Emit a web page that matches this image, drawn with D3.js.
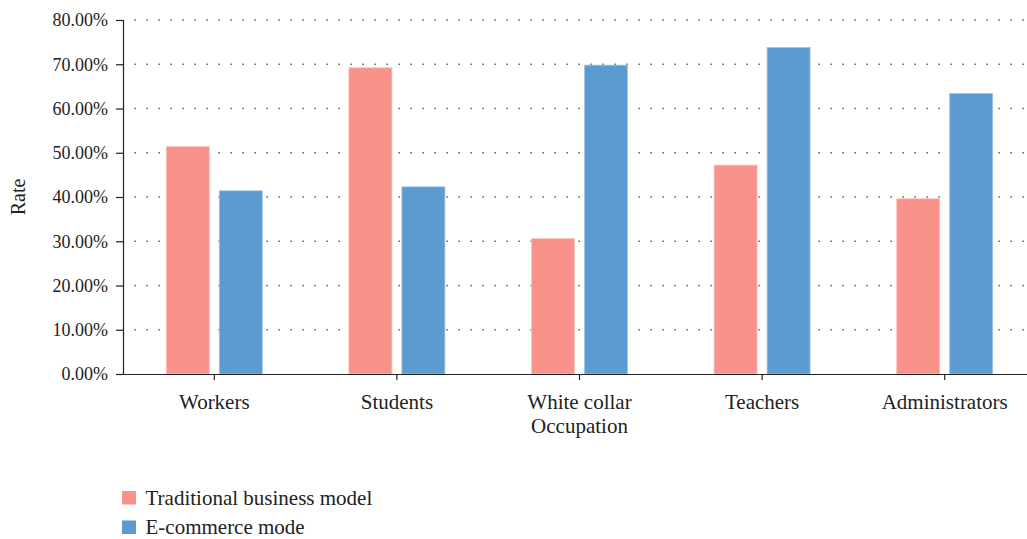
<!DOCTYPE html>
<html>
<head>
<meta charset="utf-8">
<script src="https://cdn.jsdelivr.net/npm/d3@7"></script>
<style>
  body { margin: 0; background: #fff; }
  svg { display: block; }
  svg text { font-family: "Liberation Serif", "DejaVu Serif", serif; }
</style>
</head>
<body>
<div id="chart"></div>
<script>
// data
const categories = ["Workers", "Students", "White collar\nOccupation", "Teachers", "Administrators"];
const seriesNames = ["Traditional business model", "E-commerce mode"];
const traditional = [51.4, 69.2, 30.6, 47.2, 39.6];
const ecommerce = [41.4, 42.3, 69.8, 73.8, 63.4];
const yTicks = [0, 10, 20, 30, 40, 50, 60, 70, 80];
const colors = ["#f8928a", "#5b9bd0"];

const width = 1027, height = 539;
const plotLeft = 123, plotRight = 1036, plotTop = 20, plotBottom = 374;

const svg = d3.select("#chart").append("svg")
  .attr("width", width)
  .attr("height", height);

const x = d3.scaleBand().domain(categories).range([plotLeft, plotRight]);
const y = d3.scaleLinear().domain([0, 80]).range([plotBottom, plotTop]);

// grid (dotted)
svg.append("g")
  .selectAll("line")
  .data(yTicks.slice(1))
  .enter()
  .append("line")
  .attr("x1", plotLeft + 11.5)
  .attr("x2", width)
  .attr("y1", d => y(d))
  .attr("y2", d => y(d))
  .attr("stroke", "#444")
  .attr("stroke-width", 1.3)
  .attr("stroke-dasharray", "1.3,10.7");

// bars
const rows = categories.map((c, i) => ({ c, vals: [traditional[i], ecommerce[i]] }));

const groups = svg.append("g")
  .selectAll("g")
  .data(rows)
  .enter()
  .append("g")
  .attr("transform", d => `translate(${x(d.c) + x.bandwidth() / 2},0)`);

groups.selectAll("rect")
  .data(d => d.vals.map((v, k) => ({ v, k })))
  .enter()
  .append("rect")
  .attr("x", d => d.k === 0 ? -48 : 5)
  .attr("width", 43)
  .attr("y", d => y(d.v))
  .attr("height", d => plotBottom - y(d.v))
  .attr("fill", d => colors[d.k])
  .attr("stroke", d => d.k === 0 ? "#fbc2bd" : "#a3c5e6")
  .attr("stroke-width", 0.8);

// y axis
const yAxis = svg.append("g")
  .attr("transform", `translate(${plotLeft},0)`)
  .call(d3.axisLeft(y).tickValues(yTicks).tickSize(7).tickPadding(8).tickFormat(d => d.toFixed(2) + "%"));
yAxis.attr("font-family", null);
yAxis.select(".domain").attr("stroke", "#222").attr("stroke-width", 1.2);
yAxis.selectAll(".tick line").attr("stroke", "#222").attr("stroke-width", 1.2);
yAxis.selectAll("text").attr("font-size", 18).attr("fill", "#222");

// x axis
const xAxis = svg.append("g")
  .attr("transform", `translate(0,${plotBottom})`)
  .call(d3.axisBottom(x).tickSize(6).tickSizeOuter(0).tickFormat(""));
xAxis.attr("font-family", null);
xAxis.select(".domain").attr("stroke", "#222").attr("stroke-width", 1.2);
xAxis.selectAll(".tick line").attr("stroke", "#222").attr("stroke-width", 1.2);

xAxis.selectAll(".tick")
  .append("text")
  .attr("fill", "#222")
  .attr("font-size", 21)
  .attr("text-anchor", "middle")
  .each(function (d) {
    const t = d3.select(this);
    d.split("\n").forEach((line, i) => {
      t.append("tspan").attr("x", 0).attr("y", 35 + i * 24).text(line);
    });
  });

// y label
svg.append("text")
  .attr("transform", "translate(25,197) rotate(-90)")
  .attr("text-anchor", "middle")
  .attr("font-size", 20)
  .attr("fill", "#222")
  .text("Rate");

// legend
const legend = svg.append("g")
  .selectAll("g")
  .data(seriesNames)
  .enter()
  .append("g")
  .attr("transform", (d, i) => `translate(122,${491 + i * 29.5})`);

legend.append("rect")
  .attr("width", 14)
  .attr("height", 13.5)
  .attr("fill", (d, i) => colors[i]);

legend.append("text")
  .attr("x", 23.5)
  .attr("y", 13.5)
  .attr("font-size", 21)
  .attr("fill", "#222")
  .text(d => d);
</script>
</body>
</html>
